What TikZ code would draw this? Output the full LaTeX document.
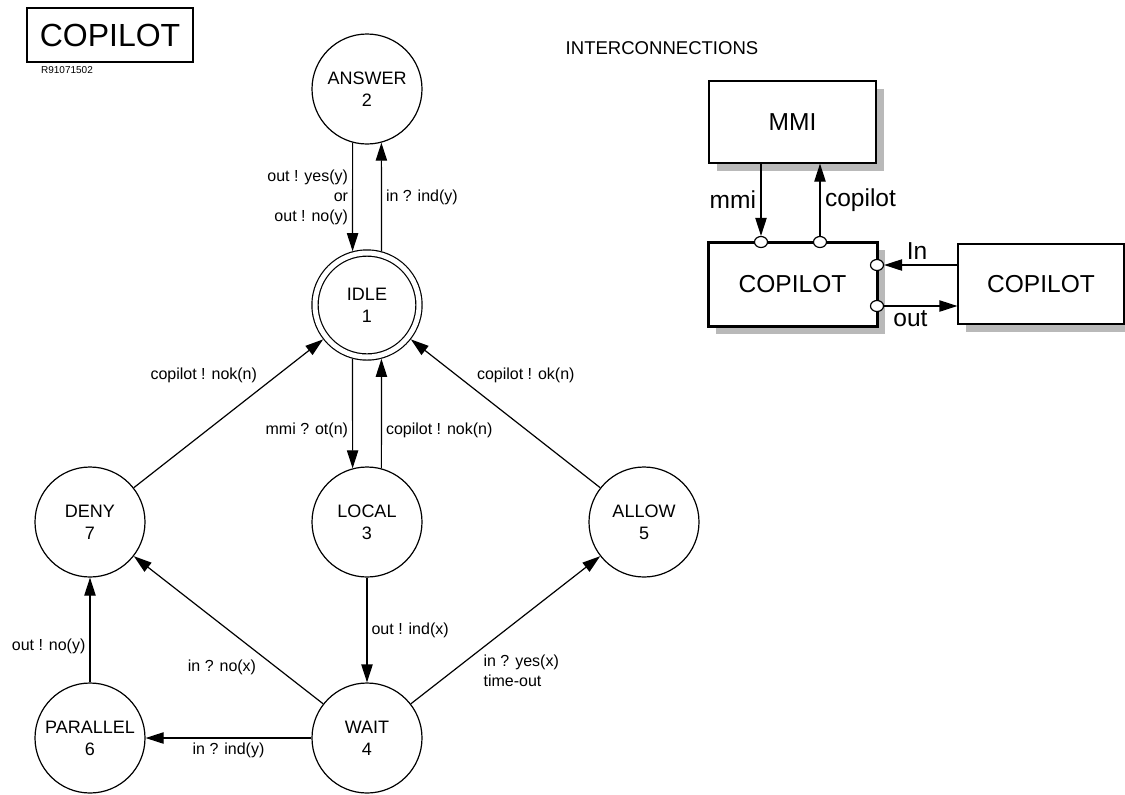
\documentclass[tikz,border=0pt]{standalone}
\usepackage{fontspec}
\setmainfont{Liberation Sans}
\usetikzlibrary{positioning}
\usetikzlibrary{shapes.geometric, arrows.meta, shadows}
\tikzstyle{arrow} = [line width=0.9pt, -{Triangle[length=13.5pt, width=8.5pt]}]

\begin{document}
\begin{tikzpicture}[
  x=0.75pt, y=-0.75pt,
  state/.style={circle, draw=black, line width=0.9pt, minimum size=82.5pt, inner sep=0pt, align=center, font=\fontsize{13.5}{16.5}\selectfont},
  lbl/.style={font=\fontsize{12}{15}\selectfont, inner sep=3pt},
  block/.style={draw=black, line width=0.9pt, fill=white, minimum width=125.25pt, minimum height=61.5pt, font=\fontsize{18.4}{22}\selectfont,
    drop shadow={shadow xshift=6pt, shadow yshift=-6pt, fill=gray!55, opacity=1}},
  port/.style={ellipse, draw=black, line width=0.9pt, fill=white, minimum width=9.75pt, minimum height=8.25pt, inner sep=0pt},
  big/.style={font=\fontsize{18.4}{22}\selectfont}
]

\useasboundingbox (0,0) rectangle (1125,794);

% title
\node[draw, line width=1.1pt, minimum width=124.5pt, minimum height=40.5pt, font=\fontsize{24}{28}\selectfont] (title) at (110,35) {COPILOT};
\node[font=\fontsize{7.5}{9}\selectfont] (refno) at (67,70) {R91071502};

% states
\node[state] (S2) at (367,89) {ANSWER\\2};
\node[state, double, double distance=3.75pt, minimum size=78pt, outer sep=2.8pt] (S1) at (367,305) {IDLE\\1};
\node[state] (S7) at (90,522) {DENY\\7};
\node[state] (S3) at (367,522) {LOCAL\\3};
\node[state] (S5) at (644,522) {ALLOW\\5};
\node[state] (S6) at (90,738) {PARALLEL\\6};
\node[state] (S4) at (367,738) {WAIT\\4};

% transitions
\draw[arrow] (S2.255) -- node[lbl, left, align=right] {out ! yes(y)\\or\\out ! no(y)} (S1.105);
\draw[arrow] (S1.75) -- node[lbl, right] {in ? ind(y)} (S2.285);
\draw[arrow] (S1.255) -- node[lbl, pos=0.65, left] {mmi ? ot(n)} (S3.105);
\draw[arrow] (S3.75) -- node[lbl, pos=0.35, right] {copilot ! nok(n)} (S1.285);
\draw[arrow] (S7) -- node[lbl, pos=0.675, anchor=south east] {copilot ! nok(n)} (S1);
\draw[arrow] (S5) -- node[lbl, pos=0.675, anchor=south west] {copilot ! ok(n)} (S1);
\draw[arrow] (S3) -- node[lbl, right] {out ! ind(x)} (S4);
\draw[arrow] (S4) -- node[lbl, pos=0.33, anchor=north east] {in ? no(x)} (S7);
\draw[arrow] (S4) -- node[lbl, pos=0.36, anchor=north west, align=left] {in ? yes(x)\\time-out} (S5);
\draw[arrow] (S4) -- node[lbl, below] {in ? ind(y)} (S6);
\draw[arrow] (S6) -- node[lbl, pos=0.34, left] {out ! no(y)} (S7);

% interconnections
\node[font=\fontsize{13.9}{16}\selectfont] (inter) at (662,48) {INTERCONNECTIONS};
\node[block] (mmi) at (792.5,122) {MMI};
\node[block, line width=2.25pt, minimum width=126.75pt, minimum height=63pt] (cop) at (792.5,284) {COPILOT};
\node[block, minimum width=124.5pt, minimum height=60pt] (peer) at (1041,284) {COPILOT};

\node[port] (pmmi) at (761,242) {};
\node[port] (pcop) at (820,242) {};
\node[port] (pin) at (877,265) {};
\node[port] (pout) at (877,306) {};

\draw[arrow] (mmi.south -| pmmi) -- node[left, big] {mmi} (pmmi);
\draw[arrow] (pcop) -- node[right, big] {copilot} (mmi.south -| pcop);
\draw[arrow] (peer.west |- pin) -- node[pos=0.55, above, big] {In} (pin);
\draw[arrow] (pout) -- node[pos=0.36, below, big] {out} (peer.west |- pout);

\end{tikzpicture}
\end{document}
